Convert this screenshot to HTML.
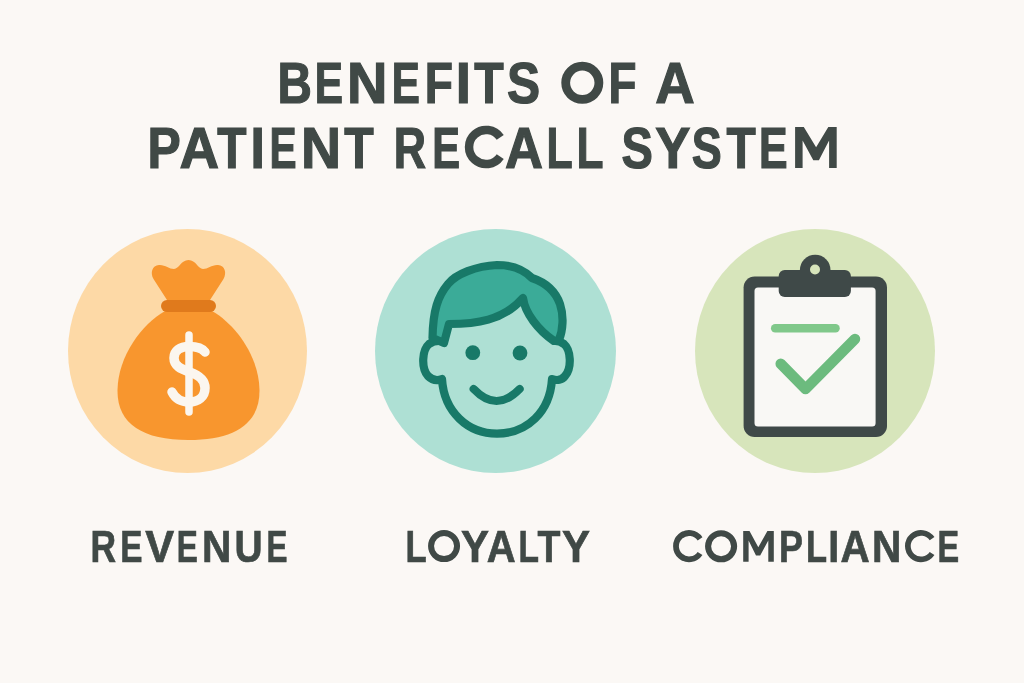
<!DOCTYPE html>
<html><head><meta charset="utf-8">
<style>
html,body{margin:0;padding:0;background:#FBF8F5;}
body{width:1024px;height:683px;overflow:hidden;}
svg{display:block;} text{transform:translateZ(0);}
svg text{font-family:"Liberation Sans",sans-serif;font-weight:bold;fill:#404946;stroke:#404946;stroke-linejoin:miter;}
</style></head><body>
<svg width="1024" height="683" viewBox="0 0 1024 683">
<rect width="1024" height="683" fill="#FBF8F5"/>

<!-- Title -->
<text x="277.57" y="102.9" font-size="56.8" stroke-width="1.2" textLength="34.43" lengthAdjust="spacingAndGlyphs">B</text>
<text x="314.78" y="102.9" font-size="56.8" stroke-width="1.2" textLength="28.25" lengthAdjust="spacingAndGlyphs">E</text>
<text x="347.1" y="102.9" font-size="56.8" stroke-width="1.2" textLength="40.44" lengthAdjust="spacingAndGlyphs">N</text>
<text x="391.79" y="102.9" font-size="56.8" stroke-width="1.2" textLength="28.13" lengthAdjust="spacingAndGlyphs">E</text>
<text x="424.66" y="102.9" font-size="56.8" stroke-width="1.2" textLength="28.23" lengthAdjust="spacingAndGlyphs">F</text>
<text x="455.87" y="102.9" font-size="56.8" stroke-width="1.2" textLength="15.18" lengthAdjust="spacingAndGlyphs">I</text>
<text x="474.2" y="102.9" font-size="56.8" stroke-width="1.2" textLength="29.46" lengthAdjust="spacingAndGlyphs">T</text>
<text x="506.93" y="102.9" font-size="56.8" stroke-width="1.2" textLength="33.11" lengthAdjust="spacingAndGlyphs">S</text>
<text x="608.38" y="102.9" font-size="56.8" stroke-width="1.2" textLength="27.99" lengthAdjust="spacingAndGlyphs">F</text>
<text x="655.28" y="102.9" font-size="56.8" stroke-width="1.2" textLength="39.47" lengthAdjust="spacingAndGlyphs">A</text>
<text x="147.45" y="167.9" font-size="56.8" stroke-width="1.2" textLength="33.28" lengthAdjust="spacingAndGlyphs">P</text>
<text x="179.58" y="167.9" font-size="56.8" stroke-width="1.2" textLength="39.58" lengthAdjust="spacingAndGlyphs">A</text>
<text x="217.3" y="167.9" font-size="56.8" stroke-width="1.2" textLength="29.26" lengthAdjust="spacingAndGlyphs">T</text>
<text x="250.55" y="167.9" font-size="56.8" stroke-width="1.2" textLength="14.33" lengthAdjust="spacingAndGlyphs">I</text>
<text x="269.48" y="167.9" font-size="56.8" stroke-width="1.2" textLength="27.1" lengthAdjust="spacingAndGlyphs">E</text>
<text x="301.03" y="167.9" font-size="56.8" stroke-width="1.2" textLength="40.08" lengthAdjust="spacingAndGlyphs">N</text>
<text x="344.2" y="167.9" font-size="56.8" stroke-width="1.2" textLength="29.46" lengthAdjust="spacingAndGlyphs">T</text>
<text x="393.84" y="167.9" font-size="56.8" stroke-width="1.2" textLength="32.28" lengthAdjust="spacingAndGlyphs">R</text>
<text x="432.22" y="167.9" font-size="56.8" stroke-width="1.2" textLength="27.79" lengthAdjust="spacingAndGlyphs">E</text>
<text x="505.01" y="167.9" font-size="56.8" stroke-width="1.2" textLength="38.02" lengthAdjust="spacingAndGlyphs">A</text>
<text x="546.45" y="167.9" font-size="56.8" stroke-width="1.2" textLength="26.16" lengthAdjust="spacingAndGlyphs">L</text>
<text x="576.48" y="167.9" font-size="56.8" stroke-width="1.2" textLength="26.96" lengthAdjust="spacingAndGlyphs">L</text>
<text x="621.47" y="167.9" font-size="56.8" stroke-width="1.2" textLength="31.39" lengthAdjust="spacingAndGlyphs">S</text>
<text x="655.2" y="167.9" font-size="56.8" stroke-width="1.2" textLength="35.1" lengthAdjust="spacingAndGlyphs">Y</text>
<text x="691.81" y="167.9" font-size="56.8" stroke-width="1.2" textLength="29.99" lengthAdjust="spacingAndGlyphs">S</text>
<text x="726.4" y="167.9" font-size="56.8" stroke-width="1.2" textLength="29.26" lengthAdjust="spacingAndGlyphs">T</text>
<text x="759.05" y="167.9" font-size="56.8" stroke-width="1.2" textLength="28.59" lengthAdjust="spacingAndGlyphs">E</text>

<!-- Circles -->
<ellipse cx="187.5" cy="351" rx="119.5" ry="122" fill="#FDD9A6"/>
<ellipse cx="495.5" cy="351" rx="120.5" ry="122" fill="#AEE0D4"/>
<ellipse cx="815" cy="351" rx="120" ry="122" fill="#D7E5BB"/>

<!-- Money bag -->
<g>
  <path d="M167 300 L153.5 279 C150 273 152 265.5 159 265 C165 264.5 169 269 174 269 C179 269 181 260 188.5 260 C196 260 198 269 203 269 C208 269 212 264.5 218 265 C225 265.5 227 273 223.5 279 L210 300 Z" fill="#F8962E"/>
  <path d="M165 311 C142 324 118 356 117.5 390 C117 424 143 440 188.5 440 C234 440 260 424 259.5 390 C259 356 235 324 212 311 Z" fill="#F8962E"/>
  <rect x="161" y="300" width="55" height="12" rx="6" fill="#E07A1C"/>
  <path d="M189 335 L189 412" stroke="#FBF6EF" stroke-width="7.5" stroke-linecap="round" fill="none"/>
  <path d="M205 352 C202 348 196 346.5 189 346.5 C180 346.5 174 351 174 358 C174 366 181 369 189.5 372 C198 375 205 379 205 388 C205 397 198 402 189 402 C181 402 175 398 172 392" stroke="#FBF6EF" stroke-width="9.5" stroke-linecap="round" fill="none"/>
</g>

<!-- Face -->
<g stroke="#187968" stroke-width="8.2" stroke-linecap="round" stroke-linejoin="round" fill="none">
  <path d="M439 341 C436 341 432 342 429 344 C422 350 421 368 428 376 C432 380 437 381 442 379 C444 412 468 433.6 497 433.6 C527 433.6 550 412 552 379 C557 381 562 380 565 376 C572 368 571 350 564 344 C561 342 558 341 555 341"/>
  <path d="M444 343 L449 324 C475 324 503 321 523 298 C525 313 538 330 554 341 L559 340 C563 330 564 316 560 304 C555 290 544 282 532 278 C522 268 510 265 497 265 C476 266 456 274 448 284 C438 296 433 310 432.5 338 Z" fill="#3BAB98"/>
  <path d="M473.7 389 Q496.5 413 519.6 389"/>
</g>
<circle cx="472.8" cy="352.7" r="7.4" fill="#187968"/>
<circle cx="520" cy="353" r="7.4" fill="#187968"/>

<!-- Clipboard -->
<g>
  <rect x="743.6" y="276.6" width="143.4" height="160.4" rx="11" fill="#3F4948"/>
  <rect x="754.5" y="287.5" width="121.1" height="139" rx="3.5" fill="#F9F8F5"/>
  <circle cx="815.2" cy="270" r="15.3" fill="#3F4948"/>
  <rect x="778.7" y="270" width="72.2" height="27" rx="6" fill="#3F4948"/>
  <circle cx="815" cy="269.5" r="5" fill="#D7E5BB"/>
  <path d="M775.2 328.3 L835.5 328.3" stroke="#80C88A" stroke-width="8.5" stroke-linecap="round"/>
  <path d="M780.7 363.8 L805.5 389 L855 339" stroke="#6CBB7E" stroke-width="10.5" stroke-linecap="round" stroke-linejoin="round" fill="none"/>
</g>

<!-- Labels -->
<text x="90.49" y="561.65" font-size="44.0" stroke-width="0.7" textLength="25.54" lengthAdjust="spacingAndGlyphs">R</text>
<text x="120.21" y="561.65" font-size="44.0" stroke-width="0.7" textLength="22.22" lengthAdjust="spacingAndGlyphs">E</text>
<text x="145.2" y="561.65" font-size="44.0" stroke-width="0.7" textLength="28.86" lengthAdjust="spacingAndGlyphs">V</text>
<text x="176.71" y="561.65" font-size="44.0" stroke-width="0.7" textLength="21.07" lengthAdjust="spacingAndGlyphs">E</text>
<text x="201.99" y="561.65" font-size="44.0" stroke-width="0.7" textLength="29.35" lengthAdjust="spacingAndGlyphs">N</text>
<text x="234.61" y="561.65" font-size="44.0" stroke-width="0.7" textLength="28.11" lengthAdjust="spacingAndGlyphs">U</text>
<text x="266.52" y="561.65" font-size="44.0" stroke-width="0.7" textLength="20.95" lengthAdjust="spacingAndGlyphs">E</text>
<text x="405.53" y="561.65" font-size="44.0" stroke-width="0.7" textLength="21.17" lengthAdjust="spacingAndGlyphs">L</text>
<text x="460.96" y="561.65" font-size="44.0" stroke-width="0.7" textLength="27.98" lengthAdjust="spacingAndGlyphs">Y</text>
<text x="486.82" y="561.65" font-size="44.0" stroke-width="0.7" textLength="28.89" lengthAdjust="spacingAndGlyphs">A</text>
<text x="518.5" y="561.65" font-size="44.0" stroke-width="0.7" textLength="20.47" lengthAdjust="spacingAndGlyphs">L</text>
<text x="537.39" y="561.65" font-size="44.0" stroke-width="0.7" textLength="22.93" lengthAdjust="spacingAndGlyphs">T</text>
<text x="562.06" y="561.65" font-size="44.0" stroke-width="0.7" textLength="27.98" lengthAdjust="spacingAndGlyphs">Y</text>
<text x="779.06" y="561.65" font-size="44.0" stroke-width="0.7" textLength="23.94" lengthAdjust="spacingAndGlyphs">P</text>
<text x="806.04" y="561.65" font-size="44.0" stroke-width="0.7" textLength="21.05" lengthAdjust="spacingAndGlyphs">L</text>
<text x="828.26" y="561.65" font-size="44.0" stroke-width="0.7" textLength="10.97" lengthAdjust="spacingAndGlyphs">I</text>
<text x="840.61" y="561.65" font-size="44.0" stroke-width="0.7" textLength="29.21" lengthAdjust="spacingAndGlyphs">A</text>
<text x="871.99" y="561.65" font-size="44.0" stroke-width="0.7" textLength="29.35" lengthAdjust="spacingAndGlyphs">N</text>
<text x="937.46" y="561.65" font-size="44.0" stroke-width="0.7" textLength="21.65" lengthAdjust="spacingAndGlyphs">E</text>
<g id="glyphs" fill="none" stroke="#404946">
<circle cx="582.3" cy="82.8" r="16.6" stroke-width="8.8"/>
<path d="M500.24 137.47 A17.05 17.05 0 1 0 500.24 156.53" stroke-width="8.5"/>
<circle cx="444.05" cy="546.1" r="13" stroke-width="6.0"/>
<circle cx="721.1" cy="546.3" r="13" stroke-width="6.1"/>
<path d="M700.05 538.8 A13.15 13.15 0 1 0 700.05 553.5" stroke-width="5.8"/>
<path d="M932.08 538.69 A13.25 13.25 0 1 0 932.08 553.51" stroke-width="5.7"/>
</g>
<path fill="#404946" d="M795.1 167.9 L795.1 127.1 L803.8 127.1 L816.1 147.3 L828.3 127.1 L836.7 127.1 L836.7 167.9 L829.1 167.9 L829.1 140.6 L818.9 160.3 L813.3 160.3 L802.6 140.6 L802.6 167.9 Z"/>
<path fill="#404946" d="M743.2 561.7 L743.2 531.1 L749.5 531.1 L758.3 547.2 L767.4 531.1 L773.8 531.1 L773.8 561.7 L768.3 561.7 L768.3 540.4 L760.2 555.6 L756 555.6 L748.6 540.4 L748.6 561.7 Z"/>
</svg>
</body></html>
